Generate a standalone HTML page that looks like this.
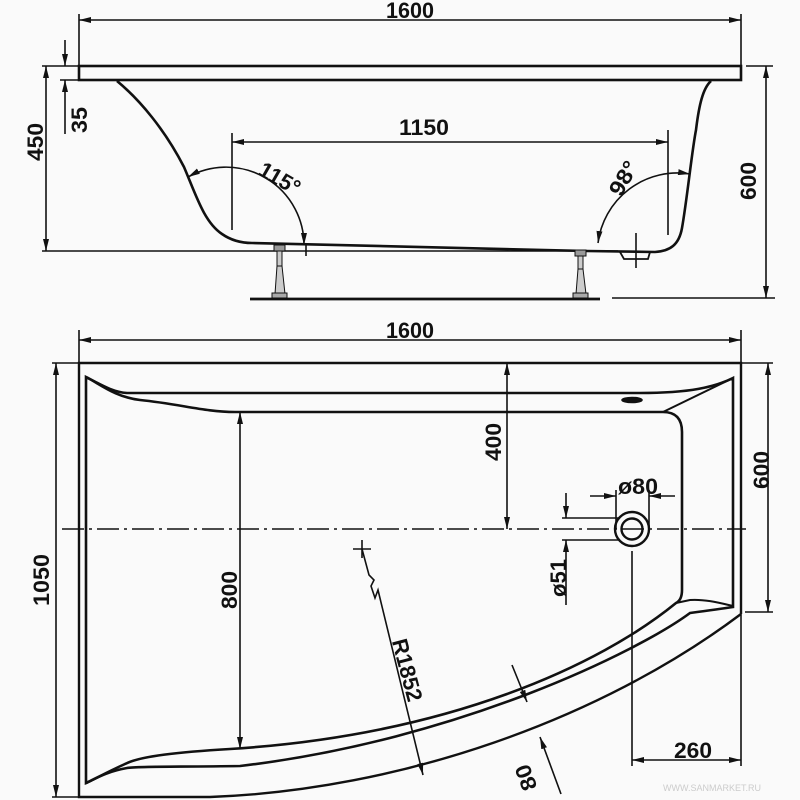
<!DOCTYPE html>
<html><head><meta charset="utf-8"><style>
html,body{margin:0;padding:0;background:#fafafa;}
svg{display:block;}
text{font-family:"Liberation Sans",sans-serif;font-size:22px;font-weight:bold;fill:#111;}
</style></head><body>
<svg width="800" height="800" viewBox="0 0 800 800" xmlns="http://www.w3.org/2000/svg">
<defs>
<marker id="a" viewBox="0 0 12 6" refX="12" refY="3" markerWidth="12" markerHeight="6" markerUnits="userSpaceOnUse" orient="auto-start-reverse">
<path d="M0,0 L12,3 L0,6 Z" fill="#111"/></marker>
</defs>
<rect width="800" height="800" fill="#fafafa"/>
<g stroke="#111" fill="none" stroke-width="1.6">
<!-- TOP VIEW -->
<line x1="79" y1="14" x2="79" y2="80"/>
<line x1="741" y1="14" x2="741" y2="80"/>
<line x1="79" y1="20" x2="741" y2="20" marker-start="url(#a)" marker-end="url(#a)"/>
<rect x="79" y="66" width="662" height="14" stroke-width="2.6"/>
<line x1="42" y1="66" x2="79" y2="66"/>
<line x1="60" y1="80" x2="79" y2="80"/>
<line x1="65" y1="40" x2="65" y2="66" marker-end="url(#a)"/>
<line x1="65" y1="134" x2="65" y2="80" marker-end="url(#a)"/>
<line x1="46" y1="66" x2="46" y2="251" marker-start="url(#a)" marker-end="url(#a)"/>
<line x1="42" y1="251" x2="618" y2="251"/>
<line x1="746" y1="66" x2="773" y2="66"/>
<line x1="612" y1="298" x2="775" y2="298"/>
<line x1="766" y1="66" x2="766" y2="298" marker-start="url(#a)" marker-end="url(#a)"/>
<path d="M117 81 C140 100,165 130,184 167 C196 195,204 222,222 234 C232 241,242 243,252 243 L587 251 L655 252 C670 251,679 245,682 228 C687 200,692 150,696 130 C699 105,703 88,711 81" stroke-width="2.6"/>
<line x1="232" y1="133" x2="232" y2="230"/>
<line x1="668" y1="130" x2="668" y2="235"/>
<line x1="232" y1="142" x2="668" y2="142" marker-start="url(#a)" marker-end="url(#a)"/>
<path d="M188 177 A78 78 0 0 1 304 245" marker-start="url(#a)" marker-end="url(#a)"/>
<path d="M690 174 A80 80 0 0 0 598 243" marker-start="url(#a)" marker-end="url(#a)"/>
<line x1="306" y1="245" x2="306" y2="256"/>
<line x1="636" y1="233" x2="636" y2="268"/>
<path d="M620 252 L624 259 L648 259 L650 252" stroke-width="1.8"/>
<line x1="250" y1="299" x2="600" y2="299" stroke-width="2.8"/>
<!-- legs -->
<g stroke-width="1">
<rect x="274" y="245" width="11" height="6" fill="#999"/>
<rect x="277" y="251" width="5" height="15" fill="#ccc"/>
<path d="M277 266 L275 294 L285 294 L282 266 Z" fill="#ccc"/>
<rect x="272" y="293" width="15" height="5" fill="#aaa"/>
<rect x="575" y="250" width="11" height="6" fill="#999"/>
<rect x="578" y="256" width="5" height="13" fill="#ccc"/>
<path d="M578 269 L576 294 L586 294 L583 269 Z" fill="#ccc"/>
<rect x="573" y="293" width="15" height="5" fill="#aaa"/>
</g>
<!-- PLAN VIEW -->
<line x1="79" y1="330" x2="79" y2="363"/>
<line x1="741" y1="330" x2="741" y2="363"/>
<line x1="79" y1="340" x2="741" y2="340" marker-start="url(#a)" marker-end="url(#a)"/>
<path d="M741 614 L741 363 L79 363 L79 797 L210 797 C400 790,600 720,741 614" stroke-width="2.4"/>
<line x1="52" y1="363" x2="79" y2="363"/>
<line x1="52" y1="797" x2="79" y2="797"/>
<line x1="56" y1="363" x2="56" y2="797" marker-start="url(#a)" marker-end="url(#a)"/>
<line x1="741" y1="363" x2="773" y2="363"/>
<line x1="745" y1="612" x2="773" y2="612"/>
<line x1="768" y1="363" x2="768" y2="612" marker-start="url(#a)" marker-end="url(#a)"/>
<!-- tub inner contour -->
<path d="M86 783 L86 377 C100 384,112 392,127 393 L640 393 C690 393,715 387,733 378 L733 607 C720 609,705 611,690 613 C640 650,460 740,240 766 C180 767,140 766,127 768 C105 772,95 779,86 783 Z" stroke-width="2.6"/>
<path d="M86 377 C100 384,115 397,140 400 C180 404,205 412,235 412 L663 412 Q682 412 682 432 L682 590 Q682 600 676 603 C600 665,450 735,230 749 C180 752,140 756,125 764 C105 773,95 779,86 783" stroke-width="2.6"/>
<path d="M663 412 L733 378" stroke-width="2"/>
<path d="M676 603 L690 600 C705 599,720 603,733 606" stroke-width="2"/>
<ellipse cx="632" cy="400" rx="10" ry="2.5" fill="#111"/>
<!-- centerline -->
<line x1="62" y1="529" x2="746" y2="529" stroke-width="1.4" stroke-dasharray="22,5,3,5"/>
<!-- 400 / 800 -->
<line x1="507" y1="363" x2="507" y2="529" marker-start="url(#a)" marker-end="url(#a)"/>
<line x1="240" y1="412" x2="240" y2="749" marker-start="url(#a)" marker-end="url(#a)"/>
<!-- drain -->
<circle cx="632" cy="529" r="17" stroke-width="2.4"/>
<circle cx="632" cy="529" r="10.5" stroke-width="2.4"/>
<line x1="616" y1="490" x2="616" y2="529"/>
<line x1="649" y1="490" x2="649" y2="529"/>
<line x1="590" y1="496" x2="616" y2="496" marker-end="url(#a)"/>
<line x1="675" y1="496" x2="649" y2="496" marker-end="url(#a)"/>
<line x1="562" y1="518" x2="620" y2="518"/>
<line x1="562" y1="540" x2="620" y2="540"/>
<line x1="566" y1="493" x2="566" y2="518" marker-end="url(#a)"/>
<line x1="566" y1="605" x2="566" y2="540" marker-end="url(#a)"/>
<line x1="632" y1="551" x2="632" y2="766"/>
<line x1="632" y1="760" x2="741" y2="760" marker-start="url(#a)" marker-end="url(#a)"/>
<line x1="741" y1="614" x2="741" y2="766"/>
<!-- R1852 -->
<line x1="353" y1="549" x2="371" y2="549"/>
<line x1="362" y1="540" x2="362" y2="558"/>
<path d="M362 549 L369 575 L374 580 L371 586 L375 598 L378 590 L423 775" marker-end="url(#a)"/>
<!-- 80 -->
<line x1="512" y1="665" x2="527" y2="702" marker-end="url(#a)"/>
<line x1="561" y1="794" x2="540" y2="737" marker-end="url(#a)"/>
</g>
<!-- TEXTS -->
<text x="410" y="18" text-anchor="middle" textLength="48" lengthAdjust="spacingAndGlyphs">1600</text>
<text transform="translate(87,120) rotate(-90)" text-anchor="middle" textLength="26" lengthAdjust="spacingAndGlyphs">35</text>
<text transform="translate(43,142) rotate(-90)" text-anchor="middle" textLength="38" lengthAdjust="spacingAndGlyphs">450</text>
<text transform="translate(756,181) rotate(-90)" text-anchor="middle" textLength="38" lengthAdjust="spacingAndGlyphs">600</text>
<text x="424" y="135" text-anchor="middle" textLength="50" lengthAdjust="spacingAndGlyphs">1150</text>
<text transform="translate(276,185) rotate(30)" text-anchor="middle" textLength="44" lengthAdjust="spacingAndGlyphs">115°</text>
<text transform="translate(630,182) rotate(-60)" text-anchor="middle" textLength="36" lengthAdjust="spacingAndGlyphs">98°</text>
<text x="410" y="338" text-anchor="middle" textLength="48" lengthAdjust="spacingAndGlyphs">1600</text>
<text transform="translate(49,580) rotate(-90)" text-anchor="middle" textLength="52" lengthAdjust="spacingAndGlyphs">1050</text>
<text transform="translate(769,470) rotate(-90)" text-anchor="middle" textLength="38" lengthAdjust="spacingAndGlyphs">600</text>
<text transform="translate(501,442) rotate(-90)" text-anchor="middle" textLength="38" lengthAdjust="spacingAndGlyphs">400</text>
<text transform="translate(237,590) rotate(-90)" text-anchor="middle" textLength="38" lengthAdjust="spacingAndGlyphs">800</text>
<text x="638" y="494" text-anchor="middle" textLength="40" lengthAdjust="spacingAndGlyphs">ø80</text>
<text transform="translate(566,578) rotate(-90)" text-anchor="middle" textLength="38" lengthAdjust="spacingAndGlyphs">ø51</text>
<text transform="translate(400,672) rotate(75)" text-anchor="middle" textLength="64" lengthAdjust="spacingAndGlyphs">R1852</text>
<text transform="translate(533,775) rotate(-110)" text-anchor="middle" textLength="26" lengthAdjust="spacingAndGlyphs">80</text>
<text x="693" y="758" text-anchor="middle" textLength="38" lengthAdjust="spacingAndGlyphs">260</text>
<text x="712" y="791" text-anchor="middle" style="font-size:9px;font-weight:normal;fill:#ccc">WWW.SANMARKET.RU</text>
</svg>
</body></html>
